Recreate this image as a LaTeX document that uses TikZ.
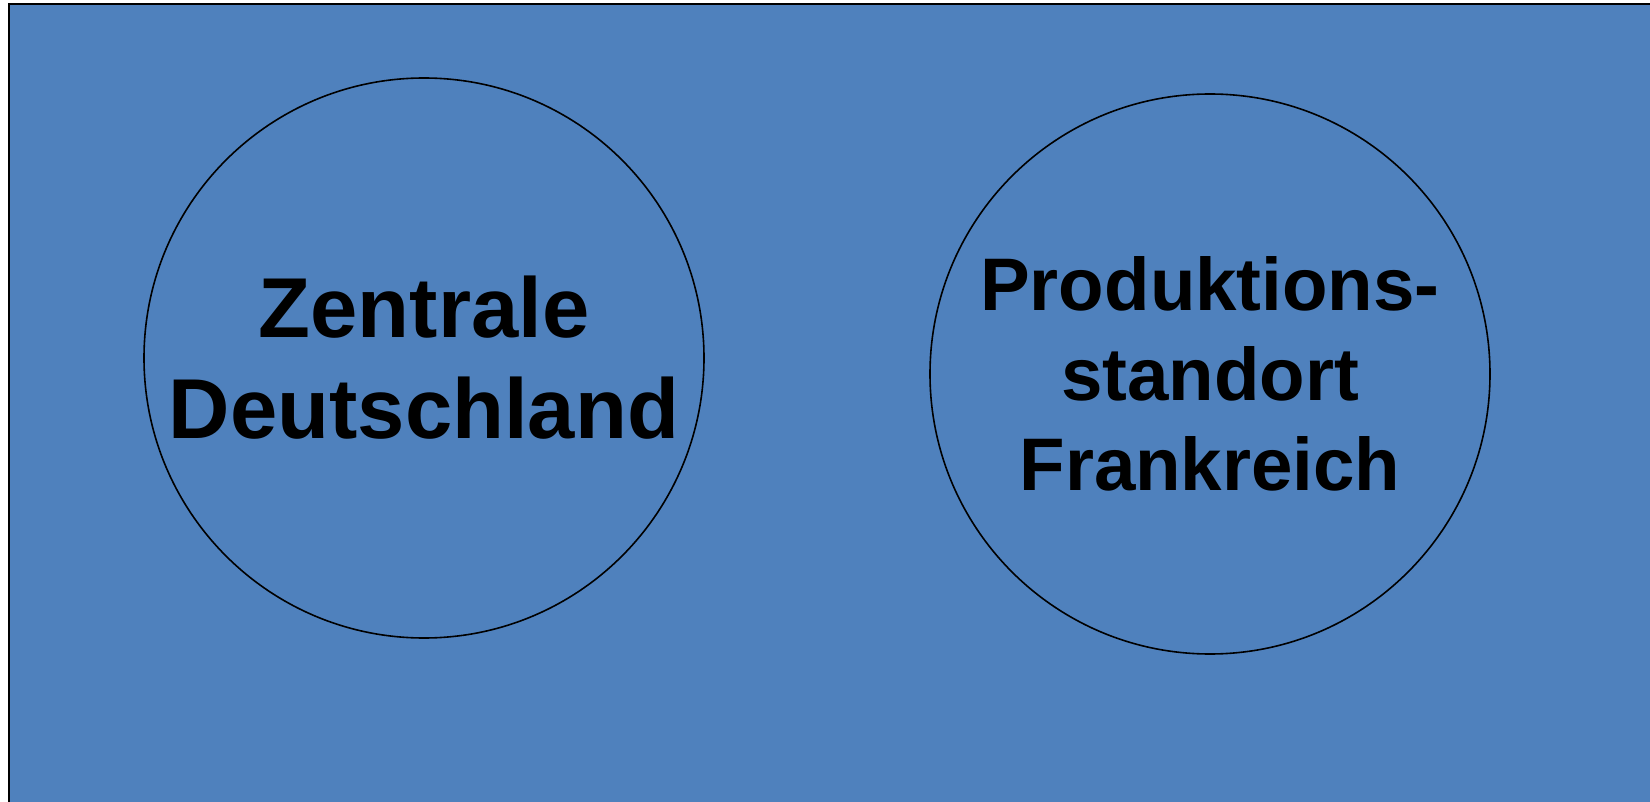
\documentclass[tikz,border=0pt]{standalone}
\usepackage{fontspec}
\setmainfont{Liberation Sans}
\definecolor{bgblue}{HTML}{4F81BD}

\begin{document}
\begin{tikzpicture}[x=1pt, y=-1pt,
site/.style={circle, draw=black, line width=1.6pt, minimum size=560pt, inner sep=0pt,
  align=center, font=\fontsize{85}{101}\selectfont\bfseries}]
\useasboundingbox (0,0) rectangle (1650,802);
\fill[white] (0,0) rectangle (1650,802);
\filldraw[fill=bgblue, draw=black, line width=2.5pt] (9,4) -- (1660,4) -- (1660,812) -- (9,812) -- cycle;
\node[site] (zentrale) at (424,358) {Zentrale\\Deutschland};
\node[site, font=\fontsize{74.5}{90}\selectfont\bfseries] (werk) at (1210,374) {Produktions-\\standort\\Frankreich};
\end{tikzpicture}
\end{document}
